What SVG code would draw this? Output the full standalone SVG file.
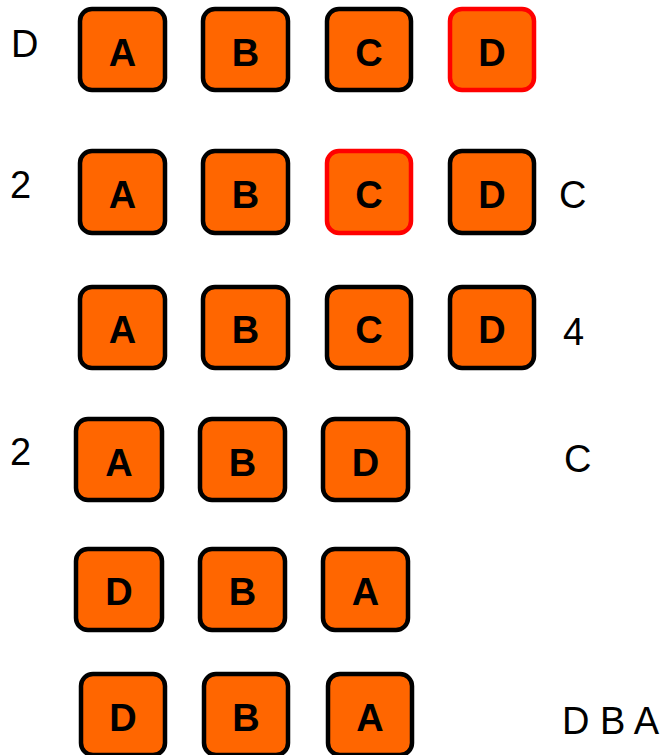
<svg xmlns="http://www.w3.org/2000/svg" width="666" height="755" viewBox="0 0 666 755">
<style>
.box{fill:#ff6600;stroke:#000;stroke-width:4.5}
.sel{stroke:#ff0000}
.bl{font-family:"Liberation Sans",Arial,sans-serif;font-weight:bold;font-size:38px;text-anchor:middle;fill:#000}
.lab{font-family:"Liberation Sans",Arial,sans-serif;font-size:38px;fill:#000}
</style>
<rect width="666" height="755" fill="#fff"/>
<g id="labels">
<text class="lab" x="11" y="57">D</text>
<text class="lab" x="10" y="198">2</text>
<text class="lab" x="559" y="208">C</text>
<text class="lab" x="563" y="345">4</text>
<text class="lab" x="10" y="465">2</text>
<text class="lab" x="564" y="472">C</text>
<text class="lab" x="562" y="734">D B A</text>
</g>
<g id="row1">
<g id="r1A"><rect class="box" x="80" y="9" width="85" height="81" rx="12"/><text class="bl" x="122.5" y="66">A</text></g>
<g id="r1B"><rect class="box" x="203" y="9" width="85" height="81" rx="12"/><text class="bl" x="245.5" y="66">B</text></g>
<g id="r1C"><rect class="box" x="327" y="9" width="84" height="81" rx="12"/><text class="bl" x="369" y="66">C</text></g>
<g id="r1D"><rect class="box sel" x="450" y="9" width="84" height="81" rx="12"/><text class="bl" x="492" y="66">D</text></g>
</g>
<g id="row2">
<g id="r2A"><rect class="box" x="80" y="151" width="85" height="82" rx="12"/><text class="bl" x="122.5" y="208">A</text></g>
<g id="r2B"><rect class="box" x="203" y="151" width="85" height="82" rx="12"/><text class="bl" x="245.5" y="208">B</text></g>
<g id="r2C"><rect class="box sel" x="327" y="151" width="84" height="82" rx="12"/><text class="bl" x="369" y="208">C</text></g>
<g id="r2D"><rect class="box" x="450" y="151" width="84" height="82" rx="12"/><text class="bl" x="492" y="208">D</text></g>
</g>
<g id="row3">
<g id="r3A"><rect class="box" x="80" y="287" width="85" height="81" rx="12"/><text class="bl" x="122.5" y="343">A</text></g>
<g id="r3B"><rect class="box" x="203" y="287" width="85" height="81" rx="12"/><text class="bl" x="245.5" y="343">B</text></g>
<g id="r3C"><rect class="box" x="327" y="287" width="84" height="81" rx="12"/><text class="bl" x="369" y="343">C</text></g>
<g id="r3D"><rect class="box" x="450" y="287" width="84" height="81" rx="12"/><text class="bl" x="492" y="343">D</text></g>
</g>
<g id="row4">
<g id="r4A"><rect class="box" x="76" y="419" width="86" height="81" rx="12"/><text class="bl" x="119" y="476">A</text></g>
<g id="r4B"><rect class="box" x="200" y="419" width="85" height="81" rx="12"/><text class="bl" x="242.5" y="476">B</text></g>
<g id="r4D"><rect class="box" x="323" y="419" width="85" height="81" rx="12"/><text class="bl" x="365.5" y="476">D</text></g>
</g>
<g id="row5">
<g id="r5D"><rect class="box" x="76" y="549" width="86" height="81" rx="12"/><text class="bl" x="119" y="605">D</text></g>
<g id="r5B"><rect class="box" x="200" y="549" width="85" height="81" rx="12"/><text class="bl" x="242.5" y="605">B</text></g>
<g id="r5A"><rect class="box" x="323" y="549" width="85" height="81" rx="12"/><text class="bl" x="365.5" y="605">A</text></g>
</g>
<g id="row6">
<g id="r6D"><rect class="box" x="81" y="674" width="84" height="81" rx="12"/><text class="bl" x="123" y="731">D</text></g>
<g id="r6B"><rect class="box" x="204" y="674" width="84" height="81" rx="12"/><text class="bl" x="246" y="731">B</text></g>
<g id="r6A"><rect class="box" x="328" y="674" width="84" height="81" rx="12"/><text class="bl" x="370" y="731">A</text></g>
</g>
<g id="connectors"/>
</svg>
